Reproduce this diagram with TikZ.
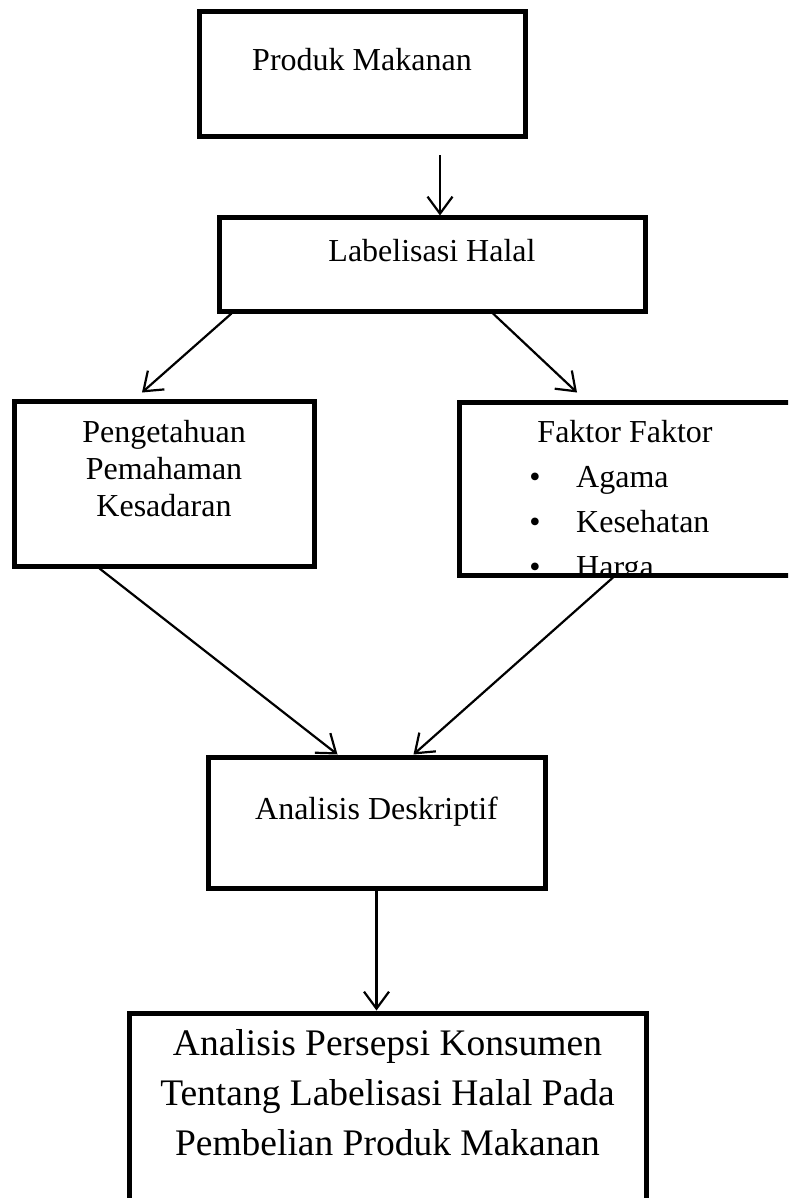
\documentclass[tikz,border=0pt]{standalone}
\usepackage{fontspec}
\setmainfont{Liberation Serif}
\usetikzlibrary{arrows.meta}
\tikzset{
  box/.style={draw, line width=5pt, rectangle, inner sep=0pt},
  conn/.style={line width=2.2pt, -{Straight Barb[length=17pt,width=25pt,line width=2.2pt]}},
  txt/.style={font=\fontsize{32}{37}\selectfont, align=center, inner sep=0pt, anchor=base},
  bigtxt/.style={font=\fontsize{37.5}{50}\selectfont, align=center, inner sep=0pt, anchor=base},
  listtxt/.style={font=\fontsize{32}{45}\selectfont, inner sep=0pt, anchor=base west},
}
\begin{document}
\begin{tikzpicture}[x=1pt,y=-1pt]
\useasboundingbox (0,0) rectangle (788,1198);
\begin{scope}
\clip (0,0) rectangle (788,1198);
% boxes
\node[box, minimum width=326pt, minimum height=125pt] (b1) at (362,74.5) {};
\node[box, minimum width=426pt, minimum height=93pt] (b2) at (432,264.5) {};
\node[box, minimum width=300pt, minimum height=165pt] (b3) at (164,483.5) {};
\node[box, minimum width=346pt, minimum height=173pt] (b4) at (632,488.5) {};
\node[box, minimum width=337pt, minimum height=131pt] (b5) at (376.5,822.5) {};
\node[box, minimum width=517pt, minimum height=217pt] (b6) at (387.5,1121.5) {};
% texts
\node[txt] (t1) at (362,71) {Produk Makanan};
\node[txt] (t2) at (432,261) {Labelisasi Halal};
\node[txt] (t3) at (164,516) {Pengetahuan\\Pemahaman\\Kesadaran};
\node[txt] (t5) at (376.5,819) {Analisis Deskriptif};
\node[bigtxt] (t6) at (387.5,1155) {Analisis Persepsi Konsumen\\Tentang Labelisasi Halal Pada\\Pembelian Produk Makanan};
\begin{scope}
\clip (462,405) rectangle (800,572);
\node[txt] (t4) at (625,442) {Faktor Faktor};
\node[listtxt] (l1) at (576,487) {Agama};
\node[listtxt] (l2) at (576,532) {Kesehatan};
\node[listtxt] (l3) at (576,577) {Harga};
\node[txt, anchor=base] (d1) at (535,487) {\textbullet};
\node[txt, anchor=base] (d2) at (535,532) {\textbullet};
\node[txt, anchor=base] (d3) at (535,577) {\textbullet};
\end{scope}
% connectors
\draw[conn] ([xshift=78pt,yshift=-16pt]b1.south) -- ([xshift=8pt]b2.north);
\draw[conn] ([xshift=15pt]b2.south west) -- ([xshift=-22pt,yshift=6pt]b3.north);
\draw[conn] ([xshift=61pt]b2.south) -- ([xshift=-55pt,yshift=7pt]b4.north);
\draw[conn] ([xshift=88pt]b3.south west) -- ([xshift=-39pt]b5.north);
\draw[conn] ([xshift=-19pt]b4.south) -- ([xshift=37pt]b5.north);
\draw[conn] (b5.south) -- ([xshift=-11pt]b6.north);
\end{scope}
\end{tikzpicture}
\end{document}
